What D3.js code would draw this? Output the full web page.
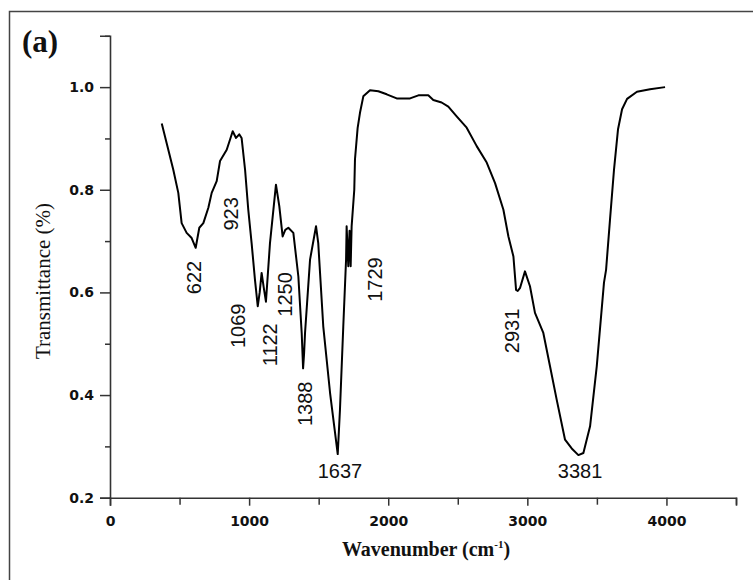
<!DOCTYPE html>
<html>
<head>
<meta charset="utf-8">
<script src="https://cdn.jsdelivr.net/npm/d3@7/dist/d3.min.js"></script>
<style>
  html, body { margin: 0; padding: 0; background: #fff; }
  svg { display: block; }
</style>
</head>
<body>
<svg id="chart" width="753" height="580"></svg>
<script>
// ---------------- DATA ----------------
const wavenumber = [372, 407, 455, 491, 515, 551, 587, 616, 642, 671, 707, 731, 767, 791, 839, 863, 882, 906, 929, 946, 971, 994, 1018, 1042, 1062, 1076, 1090, 1105, 1121, 1150, 1193, 1217, 1241, 1260, 1282, 1318, 1354, 1378, 1388, 1395, 1402, 1438, 1481, 1497, 1533, 1582, 1637, 1653, 1677, 1697, 1701, 1713, 1722, 1730, 1737, 1756, 1761, 1780, 1797, 1821, 1869, 1929, 1989, 2061, 2157, 2217, 2288, 2324, 2384, 2432, 2492, 2564, 2636, 2708, 2768, 2828, 2864, 2900, 2919, 2931, 2948, 2983, 3019, 3055, 3115, 3163, 3211, 3271, 3319, 3367, 3403, 3451, 3499, 3551, 3566, 3594, 3623, 3652, 3681, 3717, 3788, 3882, 3990];
const transmittance = [0.929, 0.891, 0.839, 0.794, 0.735, 0.716, 0.706, 0.687, 0.726, 0.735, 0.765, 0.794, 0.817, 0.856, 0.878, 0.898, 0.914, 0.901, 0.908, 0.901, 0.839, 0.761, 0.696, 0.625, 0.573, 0.600, 0.638, 0.610, 0.582, 0.696, 0.810, 0.768, 0.709, 0.722, 0.726, 0.716, 0.631, 0.521, 0.452, 0.480, 0.521, 0.664, 0.729, 0.696, 0.534, 0.404, 0.285, 0.371, 0.534, 0.664, 0.729, 0.651, 0.720, 0.651, 0.729, 0.800, 0.859, 0.920, 0.950, 0.982, 0.994, 0.992, 0.986, 0.978, 0.978, 0.984, 0.984, 0.975, 0.970, 0.962, 0.943, 0.921, 0.885, 0.853, 0.813, 0.761, 0.709, 0.670, 0.605, 0.603, 0.609, 0.641, 0.612, 0.560, 0.521, 0.456, 0.391, 0.313, 0.296, 0.283, 0.287, 0.339, 0.456, 0.619, 0.644, 0.741, 0.839, 0.918, 0.957, 0.977, 0.991, 0.996, 1.000];

const xMajorTicks = [0, 1000, 2000, 3000, 4000];
const xMinorTicks = [500, 1500, 2500, 3500, 4500];
const yMajorTicks = [0.2, 0.4, 0.6, 0.8, 1.0];
const yMinorTicks = [0.3, 0.5, 0.7, 0.9, 1.1];
const xTickLabels = ["0", "1000", "2000", "3000", "4000"];
const yTickLabels = ["0.2", "0.4", "0.6", "0.8", "1.0"];

// peak annotations: text, anchor wavenumber, anchor transmittance
const peakLabels = ["622", "923", "1069", "1122", "1250", "1388", "1637", "1729", "2931", "3381"];
const peakLabelX = [604, 870, 920, 1147, 1258, 1398, 1653, 1905, 2890, 3379];
const peakLabelY = [0.629, 0.753, 0.535, 0.498, 0.596, 0.383, 0.252, 0.625, 0.525, 0.252];
const horizontalLabels = ["1637", "3381"];

// ---------------- CHART ----------------
const svg = d3.select("#chart");
const x = d3.scaleLinear().domain([0, 4500]).range([110, 736]);
const y = d3.scaleLinear().domain([0.2, 1.1]).range([497.7, 35.8]);

// outer frame
svg.append("rect")
  .attr("x", 9.5).attr("y", 11.5)
  .attr("width", 800).attr("height", 700)
  .attr("fill", "none").attr("stroke", "#444").attr("stroke-width", 1.5);

const axisColor = "#333";
const tickFont = "'DejaVu Sans', sans-serif";

// Y axis
const gy = svg.append("g").attr("transform", `translate(${x(0)},0)`);
gy.call(d3.axisLeft(y).tickValues(yMajorTicks).tickSize(10).tickPadding(6)
  .tickFormat((d, i) => yTickLabels[i]));
gy.append("g").call(d3.axisLeft(y).tickValues(yMinorTicks).tickSize(5).tickFormat(""))
  .select(".domain").remove();
gy.selectAll(".domain").attr("stroke", axisColor).attr("stroke-width", 1.6);
gy.selectAll(".tick line").attr("stroke", axisColor).attr("stroke-width", 1.5);
gy.selectAll(".tick text").attr("font-family", tickFont).attr("font-weight", "bold")
  .attr("font-size", 14).attr("fill", "#111");

// X axis
const gx = svg.append("g").attr("transform", `translate(0,${y(0.2)})`);
gx.call(d3.axisBottom(x).tickValues(xMajorTicks).tickSize(8).tickPadding(10)
  .tickFormat((d, i) => xTickLabels[i]));
gx.append("g").call(d3.axisBottom(x).tickValues(xMinorTicks).tickSize(7).tickFormat(""))
  .select(".domain").remove();
gx.selectAll(".domain").attr("stroke", axisColor).attr("stroke-width", 1.6);
gx.selectAll(".tick line").attr("stroke", axisColor).attr("stroke-width", 1.5);
gx.selectAll(".tick text").attr("font-family", tickFont).attr("font-weight", "bold")
  .attr("font-size", 14).attr("fill", "#111");
svg.selectAll(".domain").attr("fill", "none");

// spectrum line
const pts = wavenumber.map((w, i) => [w, transmittance[i]]);
svg.append("path")
  .datum(pts)
  .attr("fill", "none")
  .attr("stroke", "#000")
  .attr("stroke-width", 2)
  .attr("stroke-linejoin", "round")
  .attr("d", d3.line().x(d => x(d[0])).y(d => y(d[1])));

// peak labels
const annFont = "'Liberation Sans', Arial, sans-serif";
peakLabels.forEach((t, i) => {
  const px = x(peakLabelX[i]), py = y(peakLabelY[i]);
  const horiz = horizontalLabels.includes(t);
  svg.append("text")
    .attr("transform", horiz ? `translate(${px},${py})` : `translate(${px},${py}) rotate(-90)`)
    .attr("text-anchor", "middle")
    .attr("dy", "0.36em")
    .attr("font-family", annFont)
    .attr("font-size", 20)
    .attr("fill", "#111")
    .text(t);
});

// axis titles
svg.append("text")
  .attr("transform", "translate(50,281) rotate(-90)")
  .attr("text-anchor", "middle")
  .attr("font-family", "'Liberation Serif', 'Times New Roman', serif")
  .attr("font-size", 21)
  .attr("fill", "#111")
  .text("Transmittance (%)");

const xt = svg.append("text")
  .attr("x", 426).attr("y", 556)
  .attr("text-anchor", "middle")
  .attr("font-family", "'Liberation Serif', 'Times New Roman', serif")
  .attr("font-weight", "bold")
  .attr("font-size", 20)
  .attr("fill", "#111");
xt.append("tspan").text("Wavenumber (cm");
xt.append("tspan").attr("dy", -8).attr("font-size", 11).text("-1");
xt.append("tspan").attr("dy", 8).text(")");

// panel label
svg.append("text")
  .attr("x", 22).attr("y", 52)
  .attr("font-family", "'Liberation Serif', 'Times New Roman', serif")
  .attr("font-weight", "bold")
  .attr("font-size", 31)
  .attr("fill", "#111")
  .text("(a)");
</script>
</body>
</html>
